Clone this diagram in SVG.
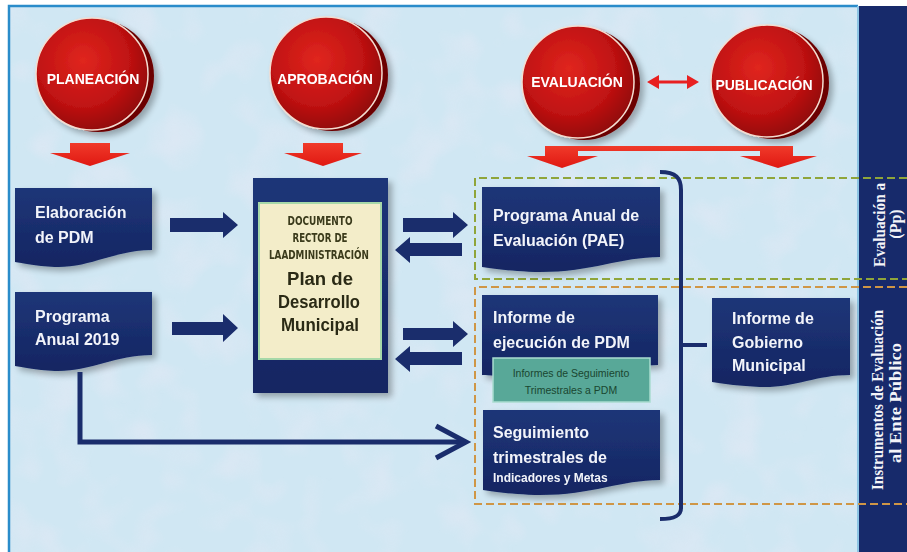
<svg xmlns="http://www.w3.org/2000/svg" width="907" height="552" viewBox="0 0 907 552">
<defs>
  <radialGradient id="btn" cx="0.42" cy="0.38" r="0.68">
    <stop offset="0" stop-color="#e0261e"/>
    <stop offset="0.6" stop-color="#c01212"/>
    <stop offset="1" stop-color="#8a0606"/>
  </radialGradient>
  <linearGradient id="navy" x1="0" y1="0" x2="0" y2="1">
    <stop offset="0" stop-color="#1f3678"/>
    <stop offset="1" stop-color="#132562"/>
  </linearGradient>
  <linearGradient id="redg" x1="0" y1="0" x2="0" y2="1">
    <stop offset="0" stop-color="#f03a2a"/>
    <stop offset="1" stop-color="#e01812"/>
  </linearGradient>
  <filter id="sh" x="-20%" y="-20%" width="150%" height="150%">
    <feGaussianBlur in="SourceAlpha" stdDeviation="3"/>
    <feOffset dx="4" dy="4"/>
    <feComponentTransfer><feFuncA type="linear" slope="0.3"/></feComponentTransfer>
    <feMerge><feMergeNode/><feMergeNode in="SourceGraphic"/></feMerge>
  </filter>
  <filter id="noise" x="0" y="0" width="100%" height="100%">
    <feTurbulence type="fractalNoise" baseFrequency="0.025" numOctaves="2" seed="4"/>
    <feColorMatrix type="matrix" values="0 0 0 0 0.93  0 0 0 0 0.83  0 0 0 0 0.93  1.3 0 0 0 -0.6"/>
  </filter>
  <style>
    .wt{font-family:"Liberation Sans",Arial,sans-serif;font-weight:bold;fill:#f2f4fa;font-size:16px}
    .bt{font-family:"Liberation Sans",Arial,sans-serif;font-weight:bold;fill:#ffffff;font-size:14px;text-anchor:middle}
    .dt{font-family:"Liberation Sans",Arial,sans-serif;font-weight:bold;fill:#2b2a14;font-size:18px;text-anchor:middle}
    .ct{font-family:"DejaVu Sans Condensed","Liberation Sans Narrow",sans-serif;font-weight:bold;fill:#3a3a1a;font-size:12px;text-anchor:middle}
    .tt{font-family:"Liberation Sans",Arial,sans-serif;fill:#1a4630;font-size:10.5px;text-anchor:middle}
    .vt{font-family:"Liberation Serif","Times New Roman",serif;font-weight:bold;fill:#f4f4f8;font-size:16px;text-anchor:middle}
    .box{fill:url(#navy)}
    .ba{fill:#1a2d6c}
    .ra{fill:url(#redg)}
    .back{fill:#6c0202}
    .face{fill:url(#btn);stroke:#f4dcd0;stroke-width:1.5}
  </style>
</defs>

<!-- background -->
<rect x="0" y="0" width="907" height="552" fill="#ffffff"/>
<rect x="9" y="7" width="850" height="545" fill="#d0e7f3"/>
<rect x="9" y="7" width="850" height="545" filter="url(#noise)" opacity="0.6"/>
<path d="M9,552 V6 H858" fill="none" stroke="#2a8cca" stroke-width="2.5"/>

<!-- right panel -->
<g id="panel">
  <rect x="858" y="6" width="49" height="546" fill="#172a6b"/>
  <line x1="858" y1="6" x2="858" y2="552" stroke="#8cc4e4" stroke-width="2"/>
</g>

<!-- dashed group boxes -->
<g id="groups" fill="none" stroke-width="2" stroke-dasharray="8,4">
  <path d="M907,178 H475 V279 H907" stroke="#8fa53a"/>
  <path d="M907,287 H475 V504 H907" stroke="#cf9646"/>
</g>

<!-- red buttons -->
<g id="planeacion" filter="url(#sh)">
  <circle cx="98" cy="76" r="56" class="back"/>
  <circle cx="92" cy="74" r="56" class="face"/>
  <text x="93" y="84" class="bt">PLANEACIÓN</text>
</g>
<g id="aprobacion" filter="url(#sh)">
  <circle cx="332" cy="75" r="56" class="back"/>
  <circle cx="326" cy="73" r="56" class="face"/>
  <text x="325" y="84" class="bt">APROBACIÓN</text>
</g>
<g id="evaluacion" filter="url(#sh)">
  <circle cx="584" cy="84" r="56" class="back"/>
  <circle cx="578" cy="82" r="56" class="face"/>
  <text x="577" y="87" class="bt">EVALUACIÓN</text>
</g>
<g id="publicacion" filter="url(#sh)">
  <circle cx="773" cy="83" r="56" class="back"/>
  <circle cx="767" cy="81" r="56" class="face"/>
  <text x="764" y="90" class="bt">PUBLICACIÓN</text>
</g>

<!-- left boxes -->
<g id="elaboracion" filter="url(#sh)">
  <path class="box" d="M15,188 H152 V250 C115,250 90,268 55,267 C35,266 22,263 15,262 Z"/>
  <text x="35" y="218" class="wt">Elaboración</text>
  <text x="35" y="243" class="wt">de PDM</text>
</g>
<g id="programa-anual" filter="url(#sh)">
  <path class="box" d="M15,292 H152 V355 C115,355 90,372 55,371 C35,370 22,367 15,366 Z"/>
  <text x="35" y="322" class="wt">Programa</text>
  <text x="35" y="345" class="wt">Anual 2019</text>
</g>

<!-- central document -->
<g id="documento" filter="url(#sh)">
  <rect x="253" y="178" width="135" height="215" fill="url(#navy)"/>
  <rect x="259" y="203" width="122" height="156" fill="#f3edc9" stroke="#a6d8a8" stroke-width="2"/>
  <text x="320" y="225" class="ct" textLength="65" lengthAdjust="spacingAndGlyphs">DOCUMENTO</text>
  <text x="320" y="242" class="ct" textLength="55" lengthAdjust="spacingAndGlyphs">RECTOR DE</text>
  <text x="319" y="259" class="ct" textLength="100" lengthAdjust="spacingAndGlyphs">LAADMINISTRACIÓN</text>
  <text x="320" y="285" class="dt" textLength="66" lengthAdjust="spacingAndGlyphs">Plan de</text>
  <text x="319" y="308" class="dt" textLength="82" lengthAdjust="spacingAndGlyphs">Desarrollo</text>
  <text x="320" y="331" class="dt" textLength="78" lengthAdjust="spacingAndGlyphs">Municipal</text>
</g>

<!-- right boxes -->
<g id="pae" filter="url(#sh)">
  <path class="box" d="M482,187 H660 V257 C620,257 590,273 535,272 C510,271 495,269 482,267 Z"/>
  <text x="493" y="221" class="wt">Programa Anual de</text>
  <text x="493" y="246" class="wt">Evaluación (PAE)</text>
</g>
<g id="informe-ejecucion" filter="url(#sh)">
  <path class="box" d="M482,295 H658 V365 C625,365 600,378 550,377 C520,376 495,376 482,375 Z"/>
  <text x="493" y="323" class="wt">Informe de</text>
  <text x="493" y="348" class="wt">ejecución de PDM</text>
</g>
<g id="informes-seguimiento">
  <rect x="493" y="358" width="157" height="44" fill="#58a898" stroke="#a9dccf" stroke-width="1.5"/>
  <text x="571" y="377" class="tt">Informes de Seguimiento</text>
  <text x="571" y="394" class="tt">Trimestrales a PDM</text>
</g>
<g id="seguimiento" filter="url(#sh)">
  <path class="box" d="M483,410 H660 V480 C620,480 590,496 535,495 C510,494 495,492 483,490 Z"/>
  <text x="493" y="438" class="wt">Seguimiento</text>
  <text x="493" y="463" class="wt">trimestrales de</text>
  <text x="493" y="482" class="wt" style="font-size:12px">Indicadores y Metas</text>
</g>
<g id="informe-gobierno" filter="url(#sh)">
  <path class="box" d="M712,298 H850 V375 C815,375 795,388 760,387 C740,386 725,384 712,382 Z"/>
  <text x="732" y="324" class="wt">Informe de</text>
  <text x="732" y="348" class="wt">Gobierno</text>
  <text x="732" y="371" class="wt">Municipal</text>
</g>

<!-- connectors -->
<g id="connectors">
  <path class="ra" d="M70,143 H110 V153 H130 L90,166 L50,153 H70 Z"/>
  <path class="ra" d="M303,143 H343 V153 H362 L323,166 L284,153 H303 Z"/>
  <path class="ra" d="M545,146 H793 V156 H817 L778,168 L740,156 H760 V151 H578 V156 H598 L562,168 L527,156 H545 Z"/>
  <line x1="656" y1="82" x2="690" y2="82" stroke="#e82020" stroke-width="3"/>
  <path fill="#e82020" d="M647,82 L659,75 L659,89 Z M699,82 L687,75 L687,89 Z"/>
  <path class="ba" d="M170,218 H223 V212 L238,225 L223,238 V232 H170 Z"/>
  <path class="ba" d="M172,322 H223 V314 L238,328 L223,342 V335 H172 Z"/>
  <path class="ba" d="M403,218 H453 V212 L468,225 L453,238 V232 H403 Z"/>
  <path class="ba" d="M462,243 H410 V237 L395,250 L410,263 V256 H462 Z"/>
  <path class="ba" d="M403,328 H453 V321 L468,334 L453,347 V340 H403 Z"/>
  <path class="ba" d="M462,352 H410 V346 L395,359 L410,372 V365 H462 Z"/>
  <path d="M80,372 V442 H465" fill="none" stroke="#1a2d6c" stroke-width="5"/>
  <path d="M436,426 L466,442 L436,458" fill="none" stroke="#1a2d6c" stroke-width="5"/>
  <path d="M660,172 C676,172 681,178 681,190 V508 C681,515 676,519 660,519 M681,345 H707" fill="none" stroke="#1a2d6c" stroke-width="4"/>
</g>

<!-- vertical panel labels -->
<g id="labels">
  <text class="vt" transform="translate(885,225) rotate(-90)" textLength="84" lengthAdjust="spacingAndGlyphs">Evaluación a</text>
  <text class="vt" transform="translate(901,224) rotate(-90)">(Pp)</text>
  <text class="vt" transform="translate(883,400) rotate(-90)" textLength="180" lengthAdjust="spacingAndGlyphs">Instrumentos de Evaluación</text>
  <text class="vt" transform="translate(901,403) rotate(-90)" textLength="120" lengthAdjust="spacingAndGlyphs">al Ente Público</text>
</g>
</svg>
